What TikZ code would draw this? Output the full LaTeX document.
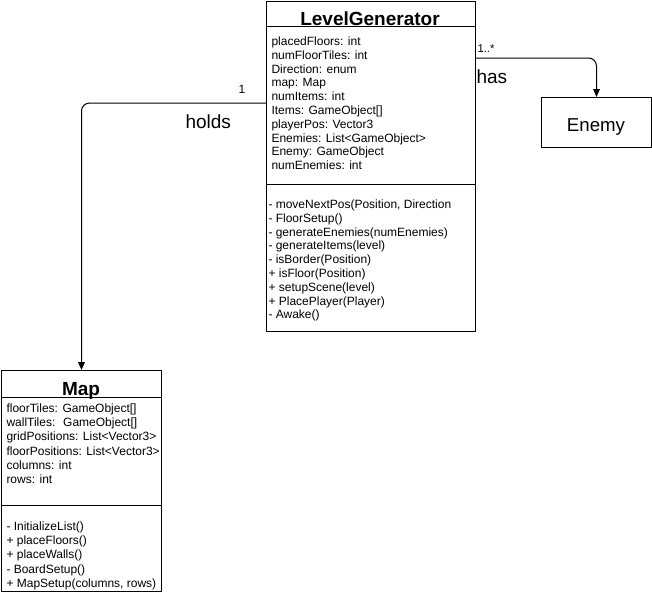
\documentclass[tikz,border=0pt]{standalone}
\usepackage{fontspec}
\setmainfont{Liberation Sans}
\usetikzlibrary{arrows.meta}
\begin{document}
\begin{tikzpicture}[x=0.75pt,y=-0.75pt,
  every path/.style={line width=0.75pt},
  umlbox/.style={draw, rectangle, inner sep=0pt, anchor=north west},
  ttl/.style={font=\fontsize{14.25}{16}\selectfont\bfseries, inner sep=0pt, anchor=base},
  itm/.style={font=\fontsize{9}{10}\selectfont, inner sep=0pt, anchor=base west},
  lbl/.style={font=\fontsize{14.25}{16}\selectfont, inner sep=0pt, anchor=base west},
  mult/.style={font=\fontsize{8.5}{10}\selectfont, inner sep=0pt, anchor=base west},
  conn/.style={draw, rounded corners=6, -{Triangle[length=6pt,width=5pt]}}]
\useasboundingbox (0,0) rectangle (652,594);
\fill[white] (0,0) rectangle (652,594);

% LevelGenerator
\node[umlbox, minimum width=156.4pt, minimum height=247.5pt] (lg) at (266,1) {};
\draw (lg.west |- 0,26.7) -- (lg.east |- 0,26.7);
\draw (lg.west |- 0,184) -- (lg.east |- 0,184);
\node[ttl] (lgt) at (370,25) {LevelGenerator};
\foreach \t [count=\i from 0] in {{placedFloors: int},{numFloorTiles: int},{Direction: enum},{map: Map},{numItems: int},{Items: GameObject[]},{playerPos: Vector3},{Enemies: List<GameObject>},{Enemy: GameObject},{numEnemies: int}}
  \node[itm] (lga\i) at (271,45.5+13.8*\i) {\t};
\foreach \t [count=\i from 0] in {{- moveNextPos(Position, Direction},{- FloorSetup()},{- generateEnemies(numEnemies)},{- generateItems(level)},{- isBorder(Position)},{+ isFloor(Position)},{+ setupScene(level)},{+ PlacePlayer(Player)},{- Awake()}}
  \node[itm] (lgm\i) at (268,208.5+13.8*\i) {\t};

% Map
\node[umlbox, minimum width=120pt, minimum height=165.75pt] (map) at (1,370) {};
\draw (map.west |- 0,397) -- (map.east |- 0,397);
\draw (map.west |- 0,505) -- (map.east |- 0,505);
\node[ttl] (mapt) at (81,395) {Map};
\foreach \t [count=\i from 0] in {{floorTiles: GameObject[]},{wallTiles:~ GameObject[]},{gridPositions: List<Vector3>},{floorPositions: List<Vector3>},{columns: int},{rows: int}}
  \node[itm] (mapa\i) at (6,412.7+14.1*\i) {\t};
\foreach \t [count=\i from 0] in {{- InitializeList()},{+ placeFloors()},{+ placeWalls()},{- BoardSetup()},{+ MapSetup(columns, rows)}}
  \node[itm] (mapm\i) at (6,530.7+14.1*\i) {\t};

% Enemy
\node[umlbox, minimum width=82.5pt, minimum height=37.5pt] (enemy) at (541,97) {};
\node[font=\fontsize{14}{16}\selectfont, inner sep=0pt, anchor=base] (enemyt) at (596,131.5) {Enemy};

% connectors
\draw[conn] (lg.west |- 0,103) -| (map.north);
\draw[conn] (lg.east |- 0,58) -| (enemy.north);

% labels
\node[itm] (one) at (238,93) {1};
\node[lbl] (holds) at (185,128.3) {holds};
\node[mult] (many) at (477,52) {1..*};
\node[lbl] (has) at (476,83.3) {has};
\end{tikzpicture}
\end{document}
